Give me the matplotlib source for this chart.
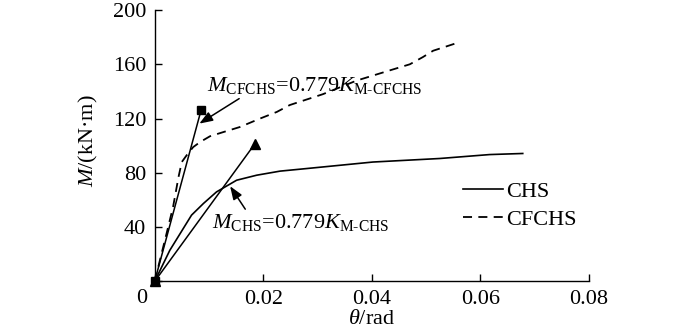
import numpy as np
import matplotlib
matplotlib.use("Agg")
import matplotlib.pyplot as plt

plt.rcParams["font.family"] = ["Liberation Serif", "DejaVu Serif"]
plt.rcParams["mathtext.fontset"] = "custom"
plt.rcParams["mathtext.rm"] = "Liberation Serif"
plt.rcParams["mathtext.it"] = "Liberation Serif:italic"
plt.rcParams["mathtext.bf"] = "Liberation Serif:bold"

# CHS moment-rotation curve
chs_theta = [0.0, 0.0028, 0.0068, 0.0090, 0.0114, 0.0151, 0.0188, 0.0231,
             0.0280, 0.0402, 0.0525, 0.0617, 0.0678]
chs_m = [0.0, 23.0, 48.9, 57.5, 66.0, 74.6, 78.3, 81.3,
         83.2, 88.0, 90.6, 93.5, 94.3]

# CFCHS moment-rotation curve
cfchs_theta = [0.0, 0.0022, 0.0034, 0.0044, 0.0050, 0.0059, 0.0071, 0.0084,
               0.0102, 0.0126, 0.0157, 0.0194, 0.0225, 0.0249, 0.0310,
               0.0372, 0.0433, 0.0470, 0.0494, 0.0513, 0.0556]
cfchs_m = [0.0, 35.4, 55.0, 77.0, 88.0, 93.0, 99.0, 102.8,
           107.0, 110.0, 113.8, 120.0, 124.9, 130.0, 138.0,
           148.0, 155.5, 160.0, 165.3, 170.0, 175.6]

# secant stiffness lines (0.779 K)
sec_chs_theta = [0.0, 0.0185]
sec_chs_m = [0.0, 101.6]
sec_cfchs_theta = [0.0, 0.00854]
sec_cfchs_m = [0.0, 126.0]

x_ticks = [0, 0.02, 0.04, 0.06, 0.08]
x_labels = ["", "0.02", "0.04", "0.06", "0.08"]
y_ticks = [0, 40, 80, 120, 160, 200]
y_labels = ["", "40", "80", "120", "160", "200"]

fig = plt.figure(figsize=(7, 3.3), dpi=100)
ax = fig.add_axes([0.2209, 0.147, 0.8414 - 0.2209, 0.9697 - 0.147])

ax.plot(chs_theta, chs_m, color="black", lw=1.2, label="CHS", clip_on=False)
ax.plot(cfchs_theta, cfchs_m, color="black", lw=1.3, ls=(0, (5, 3.5)),
        label="CFCHS", clip_on=False)

ax.plot(sec_chs_theta, sec_chs_m, color="black", lw=1.1, marker="^",
        markersize=6.5, clip_on=False)
ax.plot(sec_cfchs_theta, sec_cfchs_m, color="black", lw=1.1, marker="s",
        markersize=5.5, clip_on=False)

arrow = "-|>,head_length=0.8,head_width=0.3"
ax.annotate(r"$M_{\mathrm{CFCHS}}$=0.779$K_{\text{M-CFCHS}}$",
            xy=(0.00823, 116.3), xytext=(0.00964, 144.5),
            fontsize=16, ha="left", va="center",
            arrowprops=dict(arrowstyle=arrow, color="black", lw=1.1,
                            mutation_scale=10, shrinkA=0, shrinkB=0,
                            relpos=(0.17, 0.0)))
ax.annotate(r"$M_{\mathrm{CHS}}$=0.779$K_{\text{M-CHS}}$",
            xy=(0.0139, 70.2), xytext=(0.0105, 43.5),
            fontsize=16, ha="left", va="center",
            arrowprops=dict(arrowstyle=arrow, color="black", lw=1.1,
                            mutation_scale=10, shrinkA=0, shrinkB=0,
                            relpos=(0.2, 1.0)))

ax.set_xlim(0, 0.08)
ax.set_ylim(0, 200)
ax.set_xticks(x_ticks)
ax.set_xticklabels(x_labels)
ax.set_yticks(y_ticks)
ax.set_yticklabels(y_labels)
ax.tick_params(direction="in", length=5, width=1, labelsize=16, pad=6)
ax.annotate("0", xy=(0, 0), xycoords="axes fraction", xytext=(-9, -12),
            textcoords="offset points", ha="center", va="center", fontsize=16)

for side in ["top", "right"]:
    ax.spines[side].set_visible(False)
for side in ["left", "bottom"]:
    ax.spines[side].set_linewidth(1.0)

ax.set_xlabel(r"$\theta$/rad", fontsize=16)
ax.xaxis.set_label_coords(0.5, -0.105)
ax.set_ylabel(r"$M$/(kN·m)", fontsize=16)
ax.yaxis.set_label_coords(-0.126, 0.52)

ax.legend(loc="upper left", bbox_to_anchor=(0.71, 0.37), frameon=False,
          fontsize=16, handlelength=1.8, handletextpad=0.15, labelspacing=0.35,
          borderaxespad=0, borderpad=0)

fig.savefig("out.png", dpi=100)
